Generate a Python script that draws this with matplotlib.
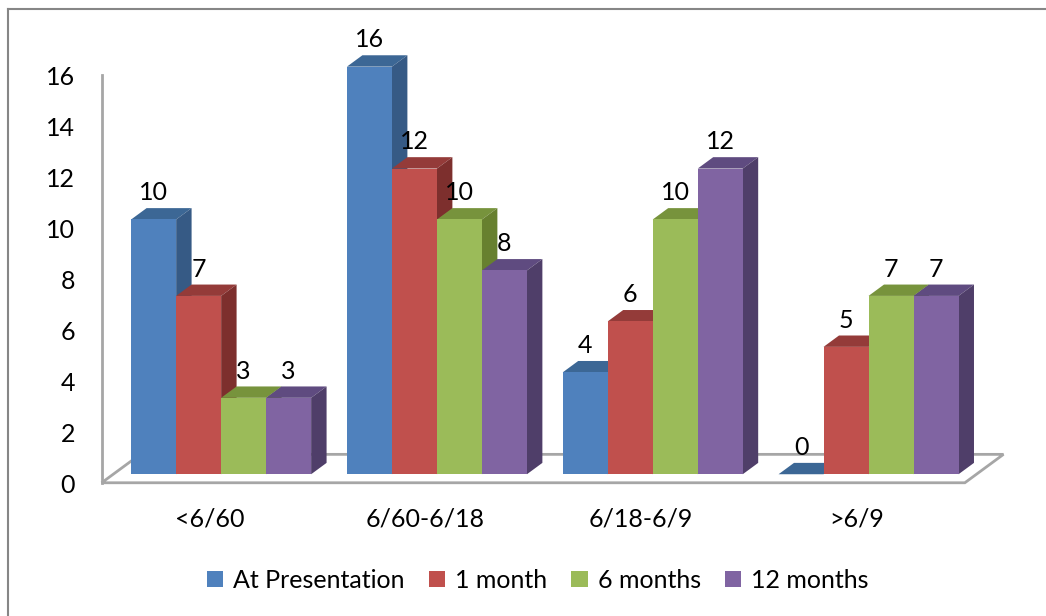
import matplotlib
matplotlib.use("Agg")
import matplotlib.pyplot as plt
from matplotlib.patches import Polygon
from matplotlib.lines import Line2D
import numpy as np

categories = ["<6/60", "6/60-6/18", "6/18-6/9", ">6/9"]
series = ["At Presentation", "1 month", "6 months", "12 months"]
at_presentation = [10, 16, 4, 0]
one_month = [7, 12, 6, 5]
six_months = [3, 10, 10, 7]
twelve_months = [3, 8, 12, 7]
y_ticks = [0, 2, 4, 6, 8, 10, 12, 14, 16]

front_cols = ["#4F81BD", "#C0504D", "#9BBB59", "#8064A2"]
top_cols = ["#3C6795", "#943B39", "#77933C", "#5F4B80"]
side_cols = ["#365A85", "#7D2F2D", "#67802F", "#4F3E69"]
grey = "#A6A6A6"

plt.rcParams["font.family"] = ["Lato", "DejaVu Sans"]
FS = 18

fig = plt.figure(figsize=(10.46, 6.16), dpi=100)
ax = fig.add_axes([0, 0, 1, 1])
ax.set_xlim(-0.971, 3.876)
ax.set_ylim(-5.23, 18.95)
ax.axis("off")

# fake 3d: floor depth, bar front offset and bar depth (data units)
DX, DY = 0.179, 1.115
FX, FY = 0.3 * DX, 0.3 * DY
BX, BY = 0.4 * DX, 0.4 * DY
W = 0.2085

floor = Polygon([(-0.5, 0), (3.5, 0), (3.5 + DX, DY), (-0.5 + DX, DY)],
                closed=True, fc="white", ec=grey, lw=2, zorder=1)
ax.add_patch(floor)
ax.plot([-0.5, -0.5], [0, 16], color=grey, lw=2, zorder=1)

for v in y_ticks:
    ax.text(-0.624, v - 0.1, str(v), ha="right", va="center", fontsize=FS)

x = np.arange(len(categories))
for i, c in enumerate(categories):
    ax.text(x[i], -1.43, c, ha="center", va="center", fontsize=FS)

data = [at_presentation, one_month, six_months, twelve_months]
handles = []
for j, vals in enumerate(data):
    left = x - 2 * W + j * W + FX
    bars = ax.bar(left, vals, width=W, bottom=FY, align="edge",
                  color=front_cols[j], linewidth=0, zorder=3 + j + 0.5,
                  label=series[j])
    handles.append(bars)
    for xl, v in zip(left, vals):
        top = FY + v
        ax.add_patch(Polygon([(xl, top), (xl + W, top), (xl + W + BX, top + BY),
                              (xl + BX, top + BY)], closed=True,
                             fc=top_cols[j], lw=0, zorder=3 + j))
        ax.add_patch(Polygon([(xl + W, FY), (xl + W + BX, FY + BY),
                              (xl + W + BX, top + BY), (xl + W, top)], closed=True,
                             fc=side_cols[j], lw=0, zorder=3 + j))
        ax.text(xl + W / 2, top + BY + 0.6, str(v), ha="center", va="center",
                fontsize=FS, zorder=10)

ax.legend(handles=handles, ncol=4, loc="center", bbox_to_anchor=(0.514, 0.058),
          bbox_transform=fig.transFigure, frameon=False, fontsize=FS,
          handlelength=0.65, handleheight=0.65, handletextpad=0.4, columnspacing=0.97)

# outer chart border (only top and left visible)
fig.add_artist(Line2D([8 / 1046, 1], [1 - 9 / 616, 1 - 9 / 616],
                      transform=fig.transFigure, color="#868686", lw=1.5))
fig.add_artist(Line2D([8 / 1046, 8 / 1046], [0, 1 - 9 / 616],
                      transform=fig.transFigure, color="#868686", lw=1.5))

fig.savefig("out.png", dpi=100)
